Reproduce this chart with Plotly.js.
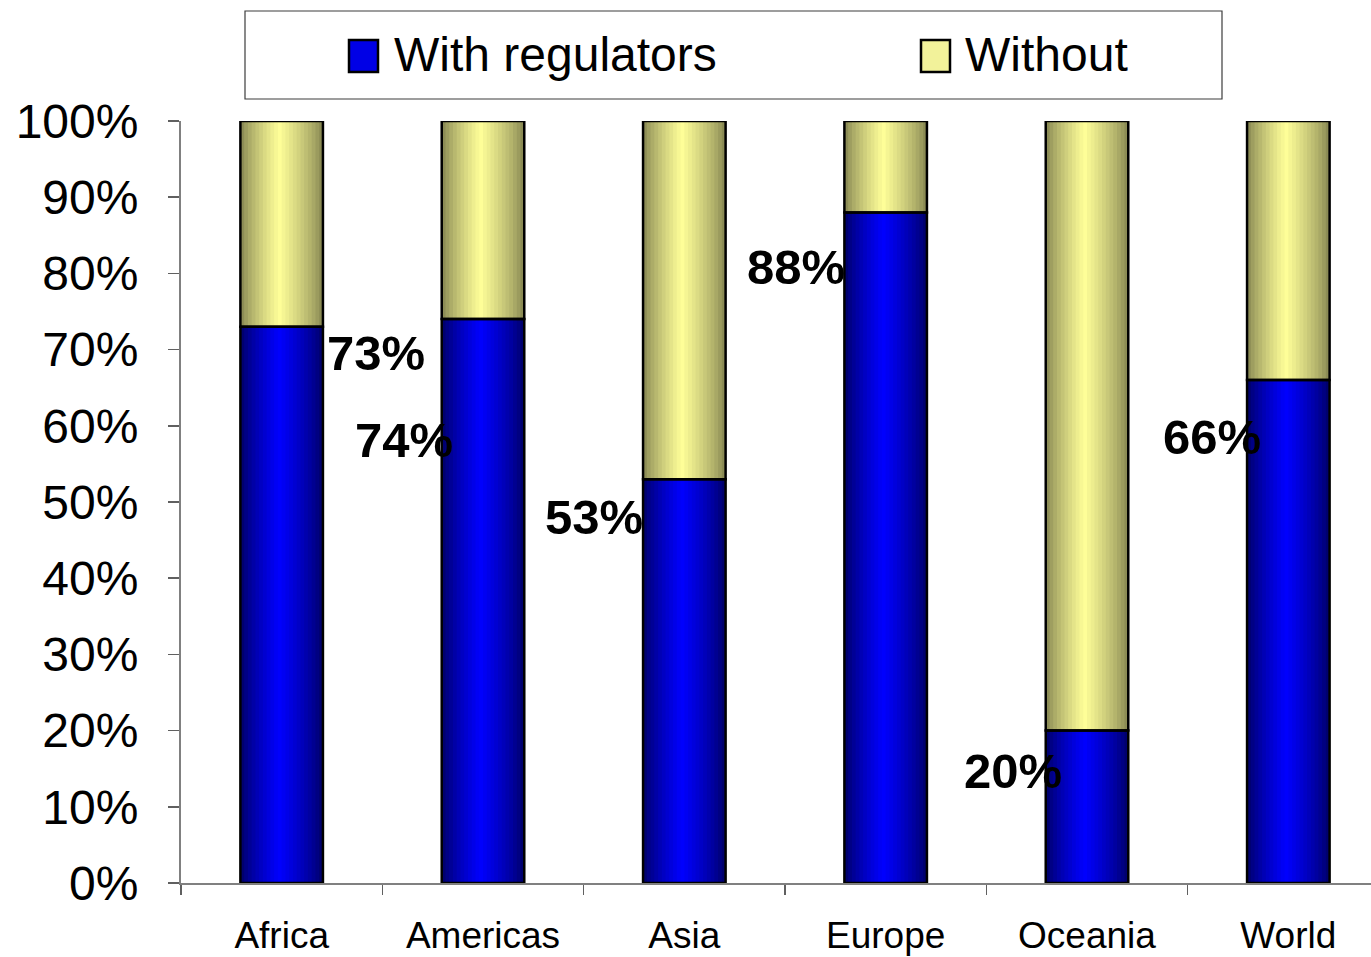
<!DOCTYPE html>
<html>
<head>
<meta charset="utf-8">
<script src="https://cdn.plot.ly/plotly-3.0.1.min.js"></script>
<style>
  html, body { margin: 0; padding: 0; overflow: hidden; background: #ffffff; }
  #chart { width: 1392px; height: 957px; }
</style>
</head>
<body>
<div id="chart"></div>
<script>
// ---- data ----
const categories = ['Africa', 'Americas', 'Asia', 'Europe', 'Oceania', 'World'];
const withRegulators = [73, 74, 53, 88, 20, 66];
const withoutRegulators = [27, 26, 47, 12, 80, 34];
const valueLabels = ['73%', '74%', '53%', '88%', '20%', '66%'];
const seriesNames = ['With regulators', 'Without'];
const yTickVals = [0, 10, 20, 30, 40, 50, 60, 70, 80, 90, 100];
const yTickText = ['0%', '10%', '20%', '30%', '40%', '50%', '60%', '70%', '80%', '90%', '100%'];

// ---- label placement (positions, kept apart from data) ----
const labelDx = [0.47, -0.39, -0.45, -0.445, -0.37, -0.38];
const labelY = [69.5, 58.1, 48.0, 80.8, 14.7, 58.5];

// ---- styling ----
const FONT = '"Liberation Sans", Arial, sans-serif';
const BAR_W = 0.41;
const STRIPS = 22;
const M = { l: 181, r: 3, t: 121, b: 74 };
const W = 1392, H = 957;
const PW = W - M.l - M.r, PH = H - M.t - M.b;
const blueEdge = [0, 0, 95], blueCenter = [0, 0, 255];
const yelEdge = [128, 128, 78], yelCenter = [255, 255, 153];

function gradColor(edge, center, t) {
  const c = 0.47;
  const d = t < c ? t / c : (1 - t) / (1 - c);
  const f = Math.pow(Math.max(0, Math.min(1, d)), 0.75);
  const v = edge.map((e, i) => Math.round(e + (center[i] - e) * f));
  return 'rgb(' + v.join(',') + ')';
}

const traces = [];
function addGradientSeries(values, base, edge, center, name) {
  const sw = BAR_W / STRIPS;
  for (let k = 0; k < STRIPS; k++) {
    const t = (k + 0.5) / STRIPS;
    const last = (k === STRIPS - 1);
    const col = gradColor(edge, center, t);
    traces.push({
      type: 'bar',
      x: categories,
      y: values,
      base: base,
      width: last ? sw : sw * 1.7,
      offset: -BAR_W / 2 + k * sw,
      marker: { color: col, line: { width: 0, color: col } },
      name: name,
      showlegend: false,
      hoverinfo: 'skip'
    });
  }
}
addGradientSeries(withRegulators, categories.map(() => 0), blueEdge, blueCenter, seriesNames[0]);
addGradientSeries(withoutRegulators, withRegulators, yelEdge, yelCenter, seriesNames[1]);

// outlines
traces.push({
  type: 'bar', x: categories, y: withRegulators, base: categories.map(() => 0),
  width: BAR_W, marker: { color: 'rgba(0,0,0,0)', line: { color: '#000000', width: 2.5 } },
  name: seriesNames[0], showlegend: false, cliponaxis: false
});
traces.push({
  type: 'bar', x: categories, y: withoutRegulators, base: withRegulators,
  width: BAR_W, marker: { color: 'rgba(0,0,0,0)', line: { color: '#000000', width: 2.5 } },
  name: seriesNames[1], showlegend: false, cliponaxis: false
});

// value labels
const annotations = categories.map((c, i) => ({
  x: i + labelDx[i], y: labelY[i], xref: 'x', yref: 'y',
  text: valueLabels[i], showarrow: false,
  xanchor: 'center', yanchor: 'middle',
  font: { family: FONT, size: 49, color: '#000000', weight: 'bold' }
}));

// custom legend (pixel -> paper helpers)
const xp = px => (px - M.l) / PW;
const yp = py => (H - M.b - py) / PH;
const shapes = [
  { type: 'rect', xref: 'paper', yref: 'paper', x0: xp(245), x1: xp(1222), y0: yp(99), y1: yp(11),
    line: { color: '#3c3c3c', width: 1.2 }, fillcolor: '#ffffff', layer: 'below' },
  { type: 'rect', xref: 'paper', yref: 'paper', x0: xp(349), x1: xp(378), y0: yp(72), y1: yp(40),
    line: { color: '#000000', width: 2.5 }, fillcolor: '#0000e6' },
  { type: 'rect', xref: 'paper', yref: 'paper', x0: xp(921), x1: xp(950), y0: yp(72), y1: yp(40),
    line: { color: '#000000', width: 2.5 }, fillcolor: '#f2f29a' }
];
annotations.push({
  xref: 'paper', yref: 'paper', x: xp(392), y: yp(55), xanchor: 'left', yanchor: 'middle',
  text: seriesNames[0], showarrow: false, font: { family: FONT, size: 48, color: '#000000' }
});
annotations.push({
  xref: 'paper', yref: 'paper', x: xp(963), y: yp(55), xanchor: 'left', yanchor: 'middle',
  text: seriesNames[1], showarrow: false, font: { family: FONT, size: 48, color: '#000000' }
});

const layout = {
  width: W, height: H,
  margin: M,
  paper_bgcolor: '#ffffff', plot_bgcolor: '#ffffff',
  barmode: 'overlay',
  showlegend: false,
  xaxis: {
    type: 'category',
    range: [-0.5, 5.5],
    showline: true, linecolor: '#808080', linewidth: 2,
    ticks: 'outside', tickson: 'boundaries', ticklen: 10, tickcolor: '#606060', tickwidth: 1.5,
    tickfont: { family: FONT, size: 37, color: '#000000' },
    ticklabelstandoff: 19,
    showgrid: false, zeroline: false, fixedrange: true
  },
  yaxis: {
    range: [0, 100],
    tickvals: yTickVals, ticktext: yTickText,
    showline: true, linecolor: '#808080', linewidth: 2,
    ticks: 'outside', ticklen: 11, tickcolor: '#606060', tickwidth: 1.5,
    tickfont: { family: FONT, size: 48, color: '#000000' },
    ticklabelstandoff: 20,
    showgrid: false, zeroline: false, fixedrange: true
  },
  shapes: shapes,
  annotations: annotations
};

Plotly.newPlot('chart', traces, layout, { staticPlot: true, displayModeBar: false });
</script>
</body>
</html>
